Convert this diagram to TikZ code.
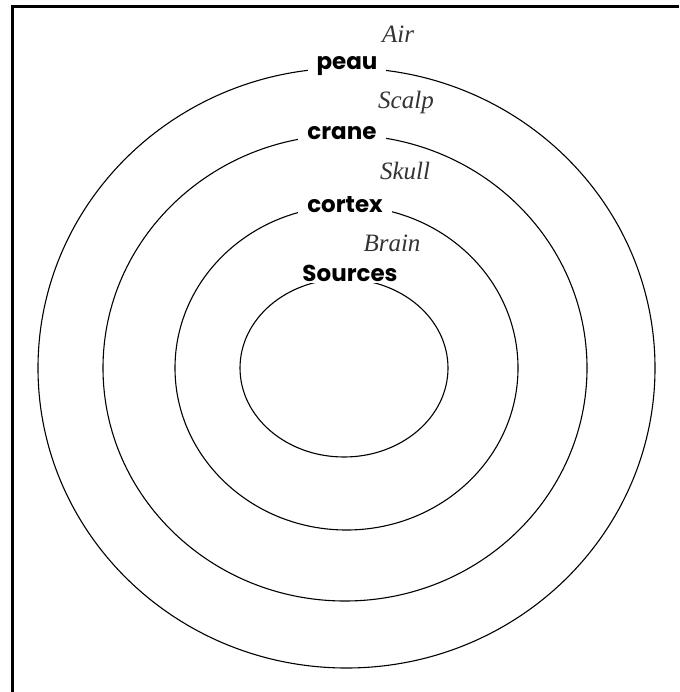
\documentclass[tikz,border=0pt]{standalone}
\usepackage{fontspec}
\setmainfont{Liberation Serif}
\newfontfamily\geo{Poppins}
\begin{document}
\begin{tikzpicture}[x=1pt,y=-1pt,
  ring/.style={line width=1.1pt, black},
  layer/.style={font=\geo\fontsize{23}{25}\selectfont\bfseries, fill=white, inner xsep=9pt, inner ysep=2pt},
  medium/.style={font=\itshape\fontsize{25}{27}\selectfont, inner sep=1pt, text=black!80}]
\useasboundingbox (0,0) rectangle (679,692);
\draw[line width=3pt] (12,692) -- (12,7) -- (679,7);
\draw[ring] (346.5,368) ellipse [x radius=308.5pt, y radius=300pt];
\draw[ring] (345,368) ellipse [x radius=242pt, y radius=233pt];
\draw[ring] (346.5,368) ellipse [x radius=171.5pt, y radius=162pt];
\draw[ring] (344,368) ellipse [x radius=104pt, y radius=89pt];
\node[layer] (peau) at (347,66) {peau};
\node[layer] (crane) at (342,133) {crane};
\node[layer] (cortex) at (345,205) {cortex};
\node[layer] (sources) at (350,273) {Sources};
\node[medium] (air) at (398,34) {Air};
\node[medium] (scalp) at (406,102) {Scalp};
\node[medium] (skull) at (405,171) {Skull};
\node[medium] (brain) at (392,243) {Brain};
\end{tikzpicture}
\end{document}
